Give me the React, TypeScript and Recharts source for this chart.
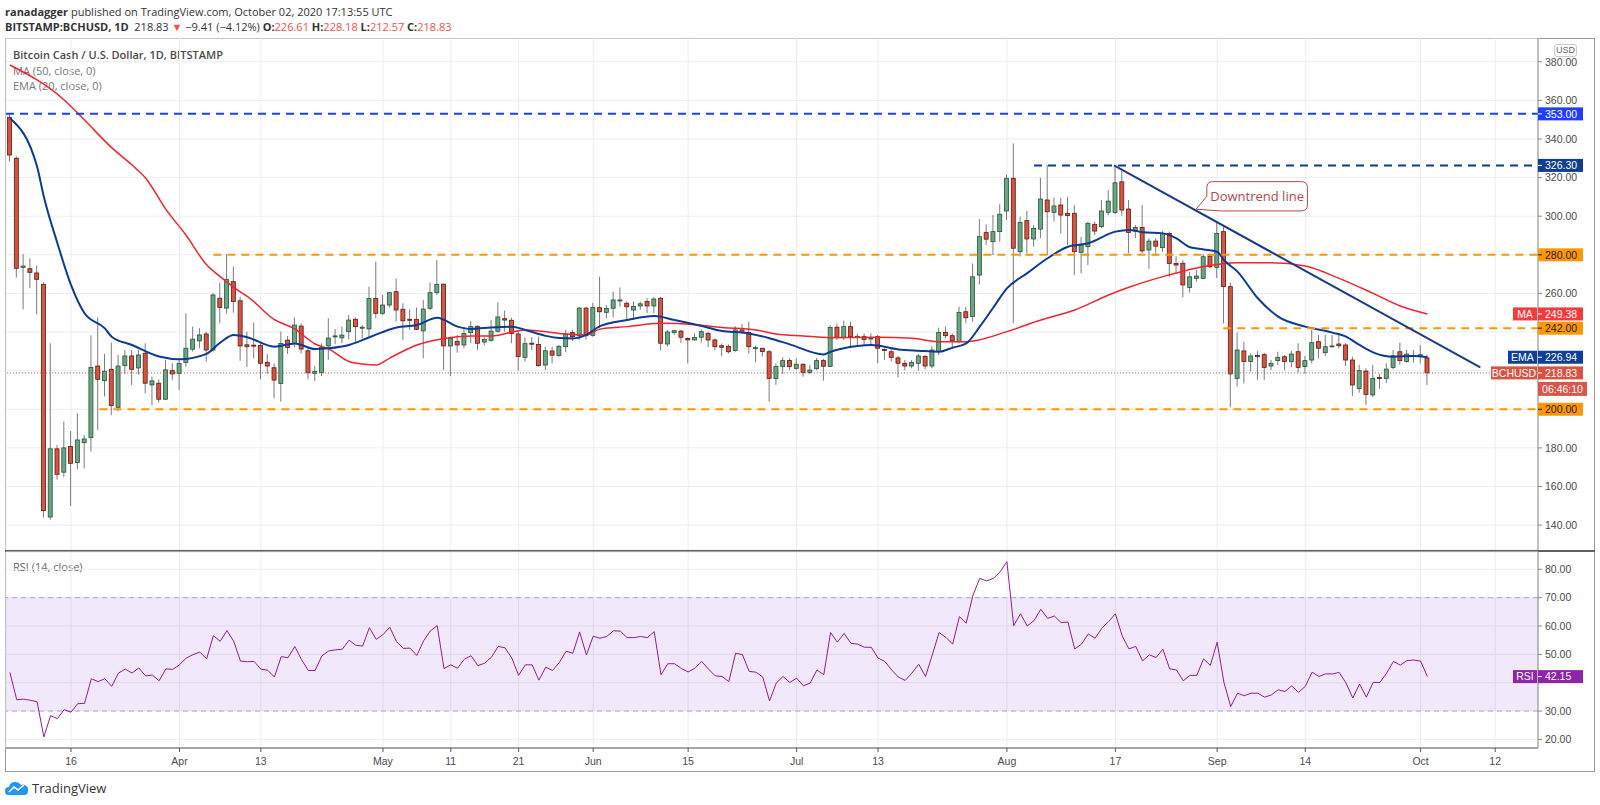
import React from "react";
import {
  Bar,
  CartesianGrid,
  ComposedChart,
  Line,
  ReferenceArea,
  ReferenceDot,
  ReferenceLine,
  XAxis,
  YAxis,
} from "recharts";

// day 0 = Mar 16 2020, first candle Mar 7 (day -9), last candle Oct 2 (day 200)
const FIRST_DAY = -9;
const X_DOMAIN: [number, number] = [-9.58, 216.31];
const PRICE_DOMAIN: [number, number] = [127.1, 392.3];
const RSI_DOMAIN: [number, number] = [16.97, 86.1];

const opens = [
  351.2, 330, 273.4, 272.8, 270.6, 264.7, 144.2, 179.5, 167.4, 180.7, 172.4, 182.7, 185.3, 222.4, 214.8, 220.7, 201, 222.6, 227.6, 221.4,
  229, 212.6, 213.5, 205.2, 220, 218.6, 224.2, 231.1, 235.4, 239, 230.7, 257.5, 252.4, 266.1, 256.2, 233.4, 233.2, 233.1, 224.3, 221.5,
  213.4, 235.8, 234.1, 243.1, 230.3, 218.6, 218.9, 232.8, 237.7, 237, 240.2, 246.6, 242.3, 241.6, 257.4, 249.7, 254, 260.9, 251.8, 246.6,
  246.6, 240.6, 252.3, 260.4, 264.8, 232.8, 235.2, 233.3, 239.7, 242.8, 234.8, 235.7, 240.4, 246.9, 246.1, 239, 226.9, 234.2, 233.5, 222.9,
  230.2, 227.8, 232.4, 239.7, 238.1, 252.4, 238.3, 252.6, 250.2, 252.3, 256.3, 254.9, 251.4, 253.5, 255.8, 253.5, 257.5, 233.8, 239.7, 240.5,
  236.7, 235.9, 237.3, 239.3, 235.9, 232.9, 232.6, 230.4, 241.1, 239.8, 231.9, 231.6, 229.8, 215.9, 222.1, 225.2, 221.2, 223.3, 219.1, 221,
  225.2, 222.1, 242.5, 237.3, 242.8, 237.6, 237.6, 236.9, 237.6, 231, 229.8, 226.6, 223.8, 222.4, 223.8, 227.3, 222.4, 229.8, 239.8, 238.1,
  235, 250.5, 248, 269.5, 291.5, 286.8, 292, 302.7, 319.6, 281.6, 297.7, 288.2, 293.3, 308.4, 302, 305.8, 301.5, 301.5, 281.3, 284.2,
  295.8, 294.6, 302, 302, 317.8, 303.7, 292.3, 294.2, 282.5, 287.1, 283.7, 291.1, 275.5, 275.6, 263.1, 267.8, 267.8, 279.3, 273.5, 292,
  263.5, 216, 230.2, 224.7, 227.9, 228.3, 222.4, 225.2, 227.2, 224.7, 229.8, 222.1, 225.5, 235, 229.3, 232.6, 233.8, 233.3, 225.5, 210.8,
  219.8, 207.4, 216.5, 216, 221.7, 229.8, 224.8, 227.9, 227.6, 226.61,
];
const highs = [
  353, 331, 280.4, 278.2, 274.4, 265.9, 234.2, 181.5, 193.6, 188.8, 197.9, 186.7, 238.3, 247.6, 228.7, 234.5, 228.1, 230.7, 230.7, 230.7,
  234.2, 216.9, 215.5, 225.5, 223.8, 226.4, 249.7, 242.8, 242, 240.2, 260.1, 265.6, 280.4, 273.9, 258.3, 240.2, 245, 234.2, 228.7, 223.7,
  240.2, 237.9, 247.6, 244.5, 232.4, 222.5, 234.1, 247.1, 241.6, 242.8, 248.8, 247.6, 243.6, 263.5, 276.4, 259.2, 260.9, 267.8, 254.9, 251.8,
  252.7, 256.6, 265.6, 277.3, 265.1, 237.6, 238.5, 242.5, 245.7, 243.6, 237.3, 246.2, 255.3, 251.1, 247.4, 241.1, 237.3, 237.3, 237.6, 232.4,
  232.4, 233.3, 241.2, 241.1, 253.1, 253.1, 255.1, 268.6, 253.9, 260.9, 263.1, 255.8, 255.8, 255.8, 257.5, 258.2, 258.2, 241.1, 241.1, 241.1,
  237.3, 239.3, 241.4, 240.2, 236.7, 234.1, 233.6, 243.1, 244.2, 245.4, 232.9, 231.2, 230.7, 223.8, 226.9, 226.4, 226.4, 223.8, 222.9, 226.6,
  226.1, 243.6, 244.5, 245.9, 245.4, 239.3, 239.3, 239.3, 238.5, 231.6, 231.6, 227.6, 225.5, 225.5, 228.6, 228.2, 232.9, 242.3, 242.8, 239.3,
  253.1, 253.1, 275.5, 298.5, 295.8, 300.6, 306.2, 321.7, 337.7, 299.8, 302.7, 295.4, 319.9, 326.5, 309.6, 309.6, 310.1, 305.8, 289.4, 297.2,
  297.2, 308.4, 313.6, 326.2, 323.4, 308.4, 295.4, 305.8, 288.6, 288.6, 292.3, 292.1, 279.3, 277.3, 271.2, 272.1, 280.4, 280.7, 296.6, 294.9,
  265.6, 239.7, 235, 228.9, 230.2, 229.3, 225.5, 229.8, 228.1, 230.2, 234.2, 227.6, 241.1, 238.5, 238.5, 238.5, 238.5, 234.2, 227.2, 223,
  221.2, 223, 218.3, 223.8, 230.7, 234.5, 230.7, 230.7, 233.2, 228.18,
];
const lows = [
  328.3, 268.2, 251.8, 262.7, 249.2, 144, 142.7, 163.5, 165, 149.9, 168.9, 169.4, 178.1, 189.3, 206.6, 196.9, 198.8, 218.1, 212.6, 217.9,
  208.3, 202.2, 203.5, 204.8, 215.2, 210, 222.1, 229.9, 231.6, 224.7, 229.9, 244.5, 249.7, 250, 225.1, 222, 226.4, 215.5, 218.3, 205.7,
  203.9, 228.6, 232, 228.9, 215.5, 214.6, 217.2, 225.6, 233.8, 234.2, 236.2, 235, 236.7, 237.6, 247.1, 248.8, 252.6, 245.4, 235.9, 241.1,
  241, 226.4, 251.4, 259.2, 220.3, 217.2, 229.3, 231.6, 234.1, 230.7, 233.1, 235, 239.7, 240.2, 234.2, 220, 224.7, 230.7, 222.1, 220.3,
  223.8, 227.2, 229.6, 235.4, 235.9, 236.2, 237.6, 242, 247.1, 247.6, 253.1, 246.3, 246.3, 251.5, 249.7, 249.7, 230.4, 232.4, 238.5, 234.2,
  223.8, 235.6, 234.5, 232.1, 230.7, 227.6, 228.9, 229.8, 239, 228.9, 224.3, 227.3, 203.9, 212.6, 218.3, 220.3, 220.3, 216.9, 218.3, 220.3,
  214.8, 222.1, 235.9, 235.9, 231.6, 233.3, 233.3, 233.8, 223.8, 225.5, 224.7, 216.6, 220.3, 221.2, 220, 220.7, 221.2, 228.1, 236.7, 231.9,
  234.1, 244.5, 245.4, 264.7, 285.1, 279.9, 286.8, 298, 244.5, 279.1, 280.8, 284.2, 288.6, 279.9, 297.2, 291.1, 285.1, 269.5, 270.4, 274.7,
  290.3, 293.7, 300.5, 301, 300.3, 280.8, 288.6, 280.8, 272.8, 279.5, 281.6, 268.6, 270.7, 258, 260.4, 266.1, 267.3, 273, 268, 244.5,
  201, 211.7, 213.4, 219.4, 215.2, 215.2, 220.3, 222.9, 220.3, 221.7, 219, 218.3, 223.8, 226.4, 227.6, 232.3, 231.6, 222.4, 206.9, 208.6,
  202.2, 206.3, 210.6, 213.6, 220.7, 223.1, 224.1, 224.1, 223.7, 212.57,
];
const closes = [
  331.7, 273, 274.2, 270.9, 267.3, 147.5, 179.5, 166.3, 180, 172, 184.1, 184.6, 221.6, 215.5, 219.7, 201.9, 222.4, 227.6, 220.7, 228.1,
  213.5, 214.7, 205.2, 220.4, 218.3, 223.8, 231.6, 236.3, 238.5, 230.7, 259.2, 252.7, 267.3, 255.8, 232.8, 232.4, 233, 223.8, 222.4, 215.1,
  234.1, 232, 243.6, 231.2, 218.9, 219.6, 232, 236.9, 238, 238.4, 246.2, 242.8, 242.5, 257.4, 249.7, 254, 260.4, 251.4, 245.8, 246.4,
  241.4, 251.9, 260.4, 264.7, 232.8, 236.7, 233.3, 239.3, 242.8, 234.2, 236.2, 240.5, 247.8, 246.2, 239.2, 227.3, 234, 234, 222.6, 230.3,
  228, 232.6, 239, 237.6, 252.4, 238.1, 252.8, 250.5, 252.3, 256.6, 256.6, 253.1, 253.3, 254.6, 253.5, 257.1, 234.2, 240, 240.7, 237.3,
  235.9, 237.2, 240.2, 235.9, 232.4, 232.1, 229.8, 241.1, 239.8, 232.4, 231.9, 229.9, 216, 222.1, 225.2, 222.1, 223.3, 219, 220.3, 225.2,
  222.3, 242.3, 237.3, 242.8, 237.6, 237.8, 236.2, 236.9, 231.6, 230.8, 226.9, 223.8, 222.4, 224.3, 227.6, 222.4, 230.7, 239.8, 238.1, 235.4,
  250.2, 247.4, 268.6, 289.4, 288.1, 292, 301, 319.6, 283.4, 296.8, 288.2, 293.7, 308.9, 302.3, 305.3, 300.6, 300.3, 281.6, 285, 296.3,
  292.3, 302.7, 307.8, 317.3, 303.2, 291.6, 294.2, 282, 287.1, 284.5, 291.1, 275.5, 274.7, 264.4, 268.6, 269, 279, 273.8, 291.1, 263.5,
  218.3, 230.7, 224.7, 227.6, 227.2, 221.7, 223.8, 226.9, 224.7, 228.6, 221.7, 225.2, 234.5, 231.6, 232.4, 232.8, 232.9, 225.5, 212.6, 220,
  207.7, 216, 215.9, 220.8, 227.7, 225.2, 228.6, 227.4, 228.24, 218.83,
];

// MA (50) and EMA (20) at a few days each
const maDays = [-9, -1, 2, 6, 9, 11, 14, 17, 20, 22, 25, 26, 30, 33, 36, 38, 41, 43, 45, 47, 51, 55, 59, 62, 67, 72, 76, 78, 82, 87, 92, 96, 101, 104, 108, 112, 119, 124, 128, 132, 138, 143, 148, 153, 156, 161, 164, 167, 172, 177, 182, 187, 192, 196, 200];
const maValues = [378.3, 360.2, 349.8, 335.5, 326.5, 319.8, 303.5, 290, 274.8, 268.7, 260.7, 258.5, 246.4, 241.6, 233.8, 231.3, 224.7, 223.4, 222.9, 226.5, 233.3, 236.7, 237.9, 238, 241.1, 239.3, 238.5, 241.5, 242.8, 244.5, 243.8, 242.4, 241.1, 239, 238, 237.1, 237.3, 236.8, 235, 235, 240.2, 246.2, 251.4, 259.2, 263.2, 268.7, 271.5, 273.9, 275.9, 275.9, 274.2, 267.8, 260, 253.5, 249.38];
const emaDays = [-9, -5, -4, -2, 0, 2, 5, 6, 9, 13, 16, 20, 22, 24, 26, 30, 33, 36, 38, 41, 44, 48, 51, 54, 57, 59, 62, 65, 67, 70, 72, 74, 76, 78, 82, 86, 89, 93, 96, 99, 103, 106, 111, 112, 116, 118, 122, 125, 128, 130, 132, 134, 136, 138, 141, 144, 147, 150, 154, 156, 158, 161, 163, 165, 167, 169, 170, 172, 175, 178, 182, 186, 188, 190, 192, 195, 198, 200];
const emaValues = [350.7, 325.7, 310.1, 286, 264.4, 249.7, 241.9, 237.6, 233.3, 227.3, 225.9, 228.7, 234.5, 238.5, 237.3, 232.4, 234.1, 231.2, 231.6, 233.3, 237.3, 242.4, 243.6, 247.4, 242.8, 241.6, 242.4, 242.8, 241.1, 238, 236.9, 236.7, 238.5, 243.1, 246.2, 248.3, 246.2, 243.1, 240.5, 239.7, 236.8, 233.6, 228.4, 229.8, 232.8, 233.3, 231, 230.3, 229.8, 231.9, 234.1, 242.8, 252.7, 262.6, 270.5, 278.2, 284.2, 286, 292, 292.9, 291.7, 291.1, 288.5, 283.9, 282.8, 281.6, 277.3, 271.3, 257.5, 248, 242.8, 239.7, 237.6, 233.3, 229.5, 227.2, 227.6, 226.94];

// RSI (14) one value per candle
const rsiValues = [
  43.6, 34, 34.2, 33.8, 33.3, 20.9, 28.4, 27.3, 30.5, 29.6, 32.6, 32.7, 41.4, 40.4, 41.4, 38.7, 43.4, 44.8, 43.4, 45.2,
  42.4, 42.7, 40.7, 44.9, 44.7, 46.3, 48.7, 49.9, 50.8, 48.4, 56.6, 54.6, 58.4, 54.6, 47.6, 47.4, 47.5, 44.8, 44.4, 42,
  49.2, 48.8, 52.8, 48.1, 44.3, 44.3, 49.5, 51.2, 51.6, 51.8, 55, 53.2, 52.9, 59.4, 55.3, 56.9, 59.6, 54.5, 52.1, 52.2,
  49.6, 54.8, 58.3, 60.1, 45, 46.3, 45.1, 48.3, 49.5, 46, 46.9, 49, 52.8, 52.3, 48.7, 42.6, 46.3, 46.3, 40.9, 45.5,
  44.3, 47.1, 51.1, 50.4, 57.9, 49.8, 56.4, 55.7, 56.3, 58.3, 58.2, 55.9, 55.9, 56.3, 55.9, 58, 42.8, 46.7, 46.7, 45,
  43.8, 45.1, 47.5, 44.8, 42.4, 42.2, 40.4, 50.4, 49.9, 44, 43.7, 42, 33.6, 39.9, 42.2, 40.1, 41.6, 38.9, 39.9, 44.5,
  42.8, 57.7, 54.3, 57.4, 53.9, 53.6, 52.5, 52.5, 48.7, 47.5, 44.5, 42, 40.8, 43.4, 46.5, 42.2, 49.8, 57.7, 56, 53.6,
  63.3, 61, 70.9, 76.8, 75.9, 76.8, 79.1, 82.7, 60.1, 64.3, 60, 61.9, 65.9, 62.7, 63.5, 61.2, 61.4, 51.9, 53.6, 57.2,
  55.7, 59.2, 61.6, 64.3, 56.5, 51.9, 52.8, 47.7, 49.8, 48.9, 51.8, 44.9, 44.5, 40.7, 42.6, 42.6, 48.4, 46.1, 54.3, 40.1,
  31.6, 36.3, 35.4, 36.3, 36.3, 34.9, 35.7, 37.5, 36.9, 38.9, 36.6, 38.7, 43.7, 42.2, 43.1, 43.1, 43.6, 39.9, 34.6, 39.5,
  34.9, 40.1, 40.1, 43.4, 47.5, 46.2, 47.8, 48, 47.6, 42.15,
];

const tickDays = [0, 16, 28, 46, 56, 66, 77, 91, 107, 119, 138, 154, 169, 182, 199, 210];
const tickLabels = ["16", "Apr", "13", "May", "11", "21", "Jun", "15", "Jul", "13", "Aug", "17", "Sep", "14", "Oct", "12"];
const priceTicks = [140, 160, 180, 200, 220, 240, 260, 280, 300, 320, 340, 360, 380];
const rsiTicks = [20, 30, 40, 50, 60, 70, 80];
// labels that sit under a value tag in the picture
const hiddenPriceLabels = [220, 240];
const hiddenRsiLabels = [40];

const rows = opens.map((o, i) => {
  const d = FIRST_DAY + i;
  const mi = maDays.indexOf(d);
  const ei = emaDays.indexOf(d);
  return {
    d,
    o,
    h: highs[i],
    l: lows[i],
    c: closes[i],
    range: [lows[i], highs[i]],
    rsi: rsiValues[i],
    ma: mi >= 0 ? maValues[mi] : null,
    ema: ei >= 0 ? emaValues[ei] : null,
  };
});

const AXIS_FONT = '"Liberation Sans", Arial, sans-serif';
const UI_FONT = '"Open Sans", sans-serif';
const GRID = "#ebedf1";
const MARGIN = { top: 0, right: 0, bottom: 0, left: 6 };
const RSI_MARGIN = { top: 2, right: 0, bottom: 0, left: 6 };

const Candle = (props: any) => {
  const { x, y, width, height, payload } = props;
  const { o, h, l, c } = payload;
  const top = Math.min(y, y + height);
  const bot = Math.max(y, y + height);
  const span = h - l || 1;
  const py = (v: number) => top + ((h - v) / span) * (bot - top);
  const up = c >= o;
  const cx = x + width / 2;
  const yo = py(o);
  const yc = py(c);
  return (
    <g>
      <line x1={cx} x2={cx} y1={top} y2={bot} stroke="#7b7b7e" strokeWidth={1} />
      <rect
        x={x}
        y={Math.min(yo, yc)}
        width={width}
        height={Math.max(1, Math.abs(yo - yc))}
        fill={up ? "#6ba583" : "#d75442"}
        stroke={up ? "#225437" : "#5b1a13"}
        strokeWidth={0.8}
      />
    </g>
  );
};

const PriceTag = (props: any) => {
  const { cx, cy, text, bg, fg, side, sideW, timer } = props;
  return (
    <g fontFamily={AXIS_FONT} fontSize={10.5}>
      {side && (
        <g>
          <rect x={cx - sideW - 1} y={cy - 6.5} width={sideW} height={13} fill={bg} />
          <text x={cx - 1 - sideW / 2} y={cy + 3.8} textAnchor="middle" fill={fg}>
            {side}
          </text>
        </g>
      )}
      <rect x={cx} y={cy - 6.5} width={45} height={13} fill={bg} />
      <line x1={cx} x2={cx + 4} y1={cy} y2={cy} stroke={fg} />
      <text x={cx + 7} y={cy + 3.8} fill={fg}>
        {text}
      </text>
      {timer && (
        <g>
          <rect x={cx} y={cy + 9} width={49} height={14} fill="#d9574a" />
          <text x={cx + 24.5} y={cy + 19.8} textAnchor="middle" fill="#fff">
            {timer}
          </text>
        </g>
      )}
    </g>
  );
};

const AxisLabel = (props: any) => {
  const { x, y, payload, hidden } = props;
  if (hidden.includes(payload.value)) return null;
  return (
    <text x={x} y={y} dy={3.8} textAnchor="start" fill="#4a4a4a" fontSize={10.5} fontFamily={AXIS_FONT}>
      {Number(payload.value).toFixed(2)}
    </text>
  );
};

const Callout = ({ cx, cy }: any) => {
  const L = cx + 10.7;
  const T = cy - 27.6;
  const R = L + 100.6;
  const B = T + 29.3;
  const r = 6;
  const d = `M${L + r},${T} L${R - r},${T} Q${R},${T} ${R},${T + r} L${R},${B - r} Q${R},${B} ${R - r},${B} L${L + 14},${B} L${cx},${cy} L${L},${cy - 13} L${L},${T + r} Q${L},${T} ${L + r},${T} Z`;
  return (
    <g>
      <path d={d} fill="#fff" stroke="#b3474f" strokeWidth={1} />
      <text x={(L + R) / 2} y={T + 19} textAnchor="middle" fontSize={13} fontFamily={UI_FONT} fill="#b4454f">
        Downtrend line
      </text>
    </g>
  );
};

const dashed = (y: number, from: number, color: string) => (
  <ReferenceLine
    key={`h${y}`}
    segment={[
      { x: from, y },
      { x: X_DOMAIN[1], y },
    ]}
    stroke={color}
    strokeWidth={2}
    strokeDasharray="8 6"
    ifOverflow="visible"
  />
);

const tag = (y: number, text: string, bg: string, fg: string, extra: any = {}) => (
  <ReferenceDot
    key={`t${text}`}
    x={X_DOMAIN[1]}
    y={y}
    r={0}
    ifOverflow="visible"
    shape={(p: any) => <PriceTag cx={p.cx} cy={p.cy} text={text} bg={bg} fg={fg} {...extra} />}
  />
);

const axisTick = { fill: "#4a4a4a", fontSize: 10.5, fontFamily: AXIS_FONT };

// transparent layer on top of a pane, so the value tags cover the axis labels
const TagLayer = ({ height, margin, domain, children }: any) => (
  <ComposedChart width={1600} height={height} data={rows} margin={margin}>
    <XAxis type="number" dataKey="d" domain={X_DOMAIN} allowDataOverflow hide />
    <YAxis orientation="right" type="number" domain={domain} allowDataOverflow width={62} tick={false} tickLine={false} axisLine={false} />
    {children}
  </ComposedChart>
);

const App = () => {
  return (
    <div style={{ position: "absolute", left: 0, top: 0, width: 1600, height: 805, background: "#fff", overflow: "hidden" }}>
      <div style={{ position: "absolute", left: 5, top: 4, fontSize: 11, lineHeight: "15px", fontFamily: UI_FONT, color: "#333", whiteSpace: "nowrap" }}>
        <b>ranadagger</b> published on TradingView.com, October 02, 2020 17:13:55 UTC
      </div>
      <div style={{ position: "absolute", left: 5, top: 18.5, fontSize: 11, lineHeight: "15px", fontFamily: UI_FONT, color: "#333", whiteSpace: "nowrap" }}>
        <b>BITSTAMP:BCHUSD, 1D</b>&nbsp; 218.83 <span style={{ color: "#f0504a" }}>▼</span> −9.41 (−4.12%) <b>O:</b>
        <span style={{ color: "#f0504a" }}>226.61</span> <b>H:</b>
        <span style={{ color: "#f0504a" }}>228.18</span> <b>L:</b>
        <span style={{ color: "#f0504a" }}>212.57</span> <b>C:</b>
        <span style={{ color: "#f0504a" }}>218.83</span>
      </div>

      <div style={{ position: "absolute", left: 5, top: 38, width: 1590, height: 734, border: "1px solid #9a9a9a", boxSizing: "border-box" }} />

      <div style={{ position: "absolute", left: 13, top: 46.5, fontSize: 11, lineHeight: "15px", fontFamily: UI_FONT, color: "#4a4a4a", fontWeight: 600 }}>
        Bitcoin Cash / U.S. Dollar, 1D, BITSTAMP
      </div>
      <div style={{ position: "absolute", left: 13, top: 62.5, fontSize: 11, lineHeight: "15px", fontFamily: UI_FONT, color: "#777" }}>
        MA (50, close, 0)
      </div>
      <div style={{ position: "absolute", left: 13, top: 77.5, fontSize: 11, lineHeight: "15px", fontFamily: UI_FONT, color: "#777" }}>
        EMA (20, close, 0)
      </div>
      <div style={{ position: "absolute", left: 13, top: 558.5, fontSize: 11, lineHeight: "15px", fontFamily: UI_FONT, color: "#666" }}>
        RSI (14, close)
      </div>

      <div style={{ position: "absolute", left: 0, top: 38 }}>
        <ComposedChart width={1600} height={512} data={rows} margin={MARGIN}>
          <CartesianGrid stroke={GRID} />
          <XAxis type="number" dataKey="d" domain={X_DOMAIN} ticks={tickDays} allowDataOverflow hide />
          <YAxis
            orientation="right"
            type="number"
            domain={PRICE_DOMAIN}
            ticks={priceTicks}
            allowDataOverflow
            width={62}
            tick={<AxisLabel hidden={hiddenPriceLabels} />}
            tickSize={4}
            tickMargin={3}
            tickLine={{ stroke: "#8a8a8a" }}
            axisLine={{ stroke: "#8a8a8a" }}
          />
          <ReferenceLine y={218.83} stroke="#d75442" strokeDasharray="1 2" />
          <Bar dataKey="range" barSize={4} shape={<Candle />} isAnimationActive={false} />
          <Line type="monotone" dataKey="ma" stroke="#f5222d" strokeWidth={1.5} dot={false} connectNulls isAnimationActive={false} />
          <Line type="monotone" dataKey="ema" stroke="#0d3a94" strokeWidth={2} dot={false} connectNulls isAnimationActive={false} />
          {dashed(353, X_DOMAIN[0], "#1f3dff")}
          {dashed(326.3, 142, "#0f3a8c")}
          {dashed(280, 21, "#ff9800")}
          {dashed(242, 169.9, "#ff9800")}
          {dashed(200, 4.2, "#ff9800")}
          <ReferenceLine
            segment={[
              { x: 153.8, y: 326.3 },
              { x: 207.8, y: 221.7 },
            ]}
            stroke="#1b3b8c"
            strokeWidth={2}
            ifOverflow="visible"
          />
          <ReferenceDot x={165.9} y={303.6} r={0} ifOverflow="visible" shape={(p: any) => <Callout cx={p.cx} cy={p.cy} />} />
        </ComposedChart>
      </div>
      <div style={{ position: "absolute", left: 0, top: 38 }}>
        <TagLayer height={512} margin={MARGIN} domain={PRICE_DOMAIN}>
          {tag(353, "353.00", "#1f3dff", "#fff")}
          {tag(326.3, "326.30", "#0f3d91", "#fff")}
          {tag(280, "280.00", "#ff9800", "#1a1a1a")}
          {tag(249.38, "249.38", "#f23b3b", "#fff", { side: "MA", sideW: 24 })}
          {tag(242, "242.00", "#ff9800", "#1a1a1a")}
          {tag(226.94, "226.94", "#0d3e9b", "#fff", { side: "EMA", sideW: 29 })}
          {tag(218.83, "218.83", "#d75442", "#fff", { side: "BCHUSD", sideW: 46, timer: "06:46:10" })}
          {tag(200, "200.00", "#ff9800", "#1a1a1a")}
        </TagLayer>
      </div>

      <div style={{ position: "absolute", left: 5, top: 549.5, width: 1590, height: 2, background: "#5d6068" }} />

      <div style={{ position: "absolute", left: 0, top: 550 }}>
        <ComposedChart width={1600} height={222} data={rows} margin={RSI_MARGIN}>
          <ReferenceArea y1={30} y2={70} fill="#8a2be2" fillOpacity={0.11} stroke="none" />
          <CartesianGrid stroke={GRID} />
          <XAxis
            type="number"
            dataKey="d"
            domain={X_DOMAIN}
            ticks={tickDays}
            allowDataOverflow
            height={24}
            tick={axisTick}
            tickSize={4}
            tickMargin={6}
            tickLine={{ stroke: "#555" }}
            axisLine={{ stroke: "#555" }}
            tickFormatter={(v: number) => tickLabels[tickDays.indexOf(v)]}
          />
          <YAxis
            orientation="right"
            type="number"
            domain={RSI_DOMAIN}
            ticks={rsiTicks}
            allowDataOverflow
            width={62}
            tick={<AxisLabel hidden={hiddenRsiLabels} />}
            tickSize={4}
            tickMargin={3}
            tickLine={{ stroke: "#8a8a8a" }}
            axisLine={{ stroke: "#8a8a8a" }}
          />
          <ReferenceLine y={70} stroke="#b3a7c2" strokeDasharray="5 4" />
          <ReferenceLine y={30} stroke="#b3a7c2" strokeDasharray="5 4" />
          <Line type="linear" dataKey="rsi" stroke="#8e1c9e" strokeWidth={1} dot={false} isAnimationActive={false} />
        </ComposedChart>
      </div>
      <div style={{ position: "absolute", left: 0, top: 550 }}>
        <TagLayer height={198} margin={RSI_MARGIN} domain={RSI_DOMAIN}>
          {tag(42.15, "42.15", "#8e24aa", "#fff", { side: "RSI", sideW: 24 })}
        </TagLayer>
      </div>

      <div
        style={{
          position: "absolute",
          left: 1554,
          top: 44,
          width: 23,
          height: 13,
          border: "1px solid #c9c9c9",
          borderRadius: 3,
          background: "#fff",
          fontSize: 9,
          lineHeight: "11px",
          textAlign: "center",
          fontFamily: AXIS_FONT,
          color: "#666",
          boxSizing: "border-box",
        }}
      >
        USD
      </div>

      <div style={{ position: "absolute", left: 5, top: 779, display: "flex", alignItems: "center", gap: 3 }}>
        <svg width={24} height={16} viewBox="0 0 24 16">
          <path d="M3 15 Q0 15 0 11 Q0 7 4 7 Q5 2 10 2 Q14 2 16 5 Q18 4 20 5 Q24 7 23 11 Q23 15 19 15 Z" fill="#2196f3" />
          <polyline points="4,12 9,7 13,10 19,5" fill="none" stroke="#fff" strokeWidth={1.6} />
        </svg>
        <span style={{ fontFamily: UI_FONT, fontSize: 13, color: "#333" }}>TradingView</span>
      </div>
    </div>
  );
};

export default App;
